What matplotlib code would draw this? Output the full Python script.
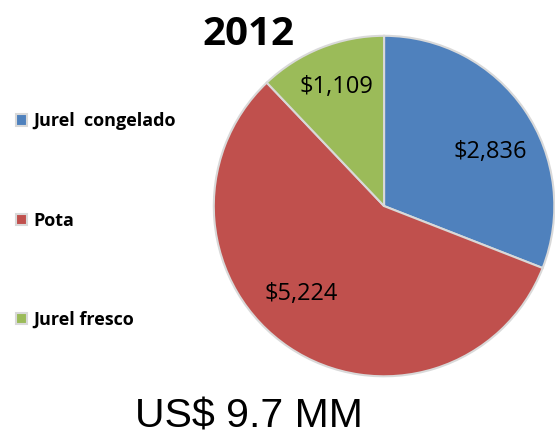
import numpy as np
import matplotlib.pyplot as plt

categories = ["Jurel  congelado", "Pota", "Jurel fresco"]
values = [2836, 5224, 1109]
colors = ["#4F81BD", "#C0504D", "#9BBB59"]
year = "2012"
total_label = "US$ 9.7 MM"

fig = plt.figure(figsize=(5.55, 4.37), dpi=100)
ax = fig.add_axes([0.382, 0.135, 0.620, 0.787])

wedges, texts = ax.pie(
    values,
    labels=[f"${v:,}" for v in values],
    colors=colors,
    startangle=90,
    counterclock=False,
    labeldistance=0.72,
    wedgeprops=dict(edgecolor="#D9D9D9", linewidth=1.5),
    textprops=dict(fontsize=17, family="Open Sans", ha="center", va="center"),
)
# nudge the labels a little along the arc, like the original
nudge = [-7.5, -9.5, 0.0]
dist = [0.70, 0.71, 0.75]
for w, t, dn, r in zip(wedges, texts, nudge, dist):
    ang = np.deg2rad((w.theta1 + w.theta2) / 2 + dn)
    t.set_position((r * np.cos(ang), r * np.sin(ang)))
    t.set_horizontalalignment("center")
ax.set_xlim(-1.01, 1.01)
ax.set_ylim(-1.01, 1.01)
ax.set_aspect("equal")

fig.text(0.447, 0.922, year, fontsize=29, fontweight="bold", family="Open Sans",
         ha="center", va="center")
fig.text(0.449, 0.046, total_label, fontsize=29.5, family="Liberation Sans",
         ha="center", va="center")

fig.legend(wedges, categories, loc="upper left", bbox_to_anchor=(0.0, 0.78),
           frameon=False, prop=dict(family="Open Sans", weight="bold", size=13),
           handlelength=0.6, handleheight=0.6, handletextpad=0.35, labelspacing=4.5)

fig.savefig("out.png", dpi=100)
